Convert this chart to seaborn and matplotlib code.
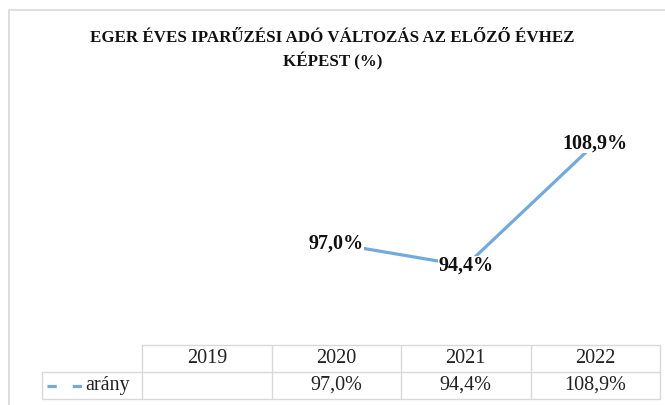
import pandas as pd
import numpy as np
import matplotlib.pyplot as plt
import matplotlib.transforms as mtransforms
from matplotlib.patches import Rectangle
import seaborn as sns

# data
years = ['2019', '2020', '2021', '2022']
arany = [np.nan, 97.0, 94.4, 108.9]
series_name = 'arány'
title = 'EGER ÉVES IPARŰZÉSI ADÓ VÁLTOZÁS AZ ELŐZŐ ÉVHEZ\nKÉPEST (%)'

def fmt(v):
    return '' if np.isnan(v) else f'{v:.1f}%'.replace('.', ',')

df = pd.DataFrame({'pos': np.arange(len(years)), 'year': years, 'value': arany})

sns.set_style('white')
plt.rcParams['font.family'] = ['Liberation Serif', 'DejaVu Serif']

W, H = 665, 405
fig = plt.figure(figsize=(W / 100, H / 100), dpi=100)
ax = fig.add_axes([142 / W, 1 - 345 / H, 518 / W, 253 / H])

blue = '#74a9dc'
grey = '#d9d9d9'

# outer chart border
fig.add_artist(Rectangle((9 / W, -0.05), 1.0, 1 - 10 / H + 0.05, transform=fig.transFigure,
                         fill=False, edgecolor=grey, lw=1.2))

sns.lineplot(data=df.dropna(), x='pos', y='value', color=blue, linewidth=2.3, ax=ax, sort=False)
ax.set_xlim(-0.5, len(years) - 0.5)
ax.set_ylim(85, 115)
ax.axis('off')

for i, v in enumerate(arany):
    if not np.isnan(v):
        ax.text(i, v, fmt(v), ha='center', va='center', fontsize=14.5, fontweight='bold',
                color='#111111', bbox=dict(facecolor='white', edgecolor='none', pad=0.0))

fig.text(0.5, 1 - 50 / H, title, ha='center', va='center', fontsize=12.2, fontweight='bold',
         color='#111111', linespacing=1.45)

# data table below the plot area
tr = mtransforms.blended_transform_factory(ax.transData, ax.transAxes)
row_h = 27 / 253
top, mid, bot = 0, -row_h, -2 * row_h
left_key = -0.5 - 100 / 129.5
lk = dict(color=grey, lw=1.0, transform=tr, clip_on=False)
for i in range(len(years) + 1):
    ax.plot([i - 0.5, i - 0.5], [top, bot], **lk)
ax.plot([-0.5, len(years) - 0.5], [top, top], **lk)
ax.plot([left_key, len(years) - 0.5], [mid, mid], **lk)
ax.plot([left_key, len(years) - 0.5], [bot, bot], **lk)
ax.plot([left_key, left_key], [mid, bot], **lk)

for i, y in enumerate(years):
    ax.text(i, (top + mid) / 2, y, ha='center', va='center', fontsize=14.5, color='#222222',
            transform=tr)
    ax.text(i, (mid + bot) / 2, fmt(arany[i]), ha='center', va='center', fontsize=14.5,
            color='#222222', transform=tr)

ax.plot([left_key + 0.039, left_key + 0.317], [(mid + bot) / 2] * 2, color=blue, lw=2.3,
        dashes=(2.9, 5.0), transform=tr, clip_on=False)
ax.text(left_key + 0.335, (mid + bot) / 2, series_name, ha='left', va='center', fontsize=14.5,
        color='#222222', transform=tr)

plt.savefig('out.png', dpi=100)
